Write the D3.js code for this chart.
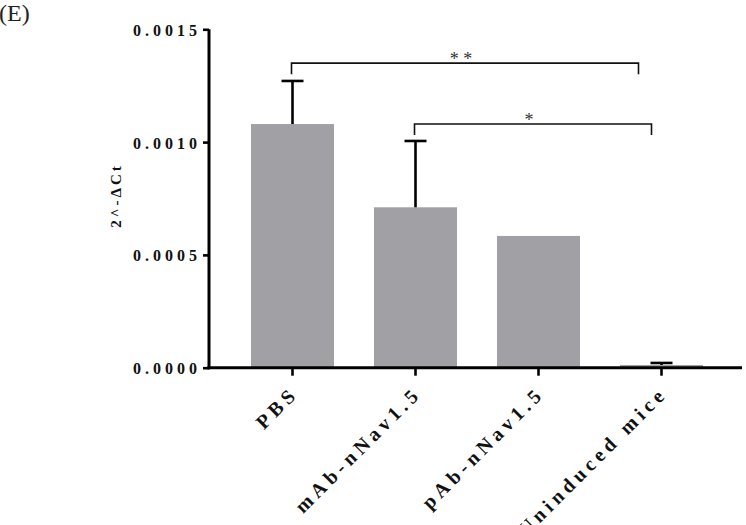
<!DOCTYPE html>
<html><head><meta charset="utf-8">
<script src="https://cdn.jsdelivr.net/npm/d3@7"></script>
<style>
body{margin:0;background:#fff;}
svg{display:block;}
</style></head>
<body><svg id="c" width="746" height="525"></svg>
<script>
const categories = ["PBS", "mAb-nNav1.5", "pAb-nNav1.5", "Uninduced mice"];
const means = [0.00108, 0.000711, 0.000584, 0.000012];
const errors = [0.000191, 0.000294, 0, 0.000009];
const yTicks = [0, 0.0005, 0.0010, 0.0015];
const yTickLabels = ["0.0000", "0.0005", "0.0010", "0.0015"];
const comparisons = [
  {from: "PBS", to: "Uninduced mice", level: 0.00135, label: "* *", endShift: -23},
  {from: "mAb-nNav1.5", to: "Uninduced mice", level: 0.00108, label: "*", endShift: -10}
];

const svg = d3.select("#c");
const serif = "'Liberation Serif','Times New Roman',serif";

const y = d3.scaleLinear().domain([0, 0.0015]).range([367.7, 29.3]);
const x = d3.scaleBand().domain(categories).range([231, 723]).paddingInner(0.325).paddingOuter(0.1625);

// panel label
svg.append("text").attr("x", -1).attr("y", 21).attr("font-family", serif)
  .attr("font-size", 24).attr("fill", "#222").text("(E)");

// bars
svg.append("g").selectAll("rect").data(categories).join("rect")
  .attr("x", d => x(d)).attr("width", x.bandwidth())
  .attr("y", (d, i) => y(means[i])).attr("height", (d, i) => y(0) - y(means[i]))
  .attr("fill", "#a1a0a5");

// error bars
const eb = svg.append("g").attr("stroke", "#000").attr("stroke-width", 2.6);
categories.forEach((c, i) => {
  if (!errors[i]) return;
  const cx = x(c) + x.bandwidth() / 2;
  eb.append("line").attr("x1", cx).attr("x2", cx).attr("y1", y(means[i])).attr("y2", y(means[i] + errors[i]));
  eb.append("line").attr("x1", cx - 11).attr("x2", cx + 11).attr("y1", y(means[i] + errors[i])).attr("y2", y(means[i] + errors[i]));
});

// y axis
const yAxis = svg.append("g").attr("transform", "translate(209,0)")
  .call(d3.axisLeft(y).tickValues(yTicks).tickFormat((d, i) => yTickLabels[i]).tickSize(6).tickPadding(2));
yAxis.select(".domain").attr("d", `M0,${y(0.0015)}V${y(0) + 1.5}`).attr("stroke-width", 3);
yAxis.selectAll(".tick line").attr("stroke-width", 2.6);
yAxis.selectAll(".tick text").attr("font-family", serif).attr("font-weight", "bold")
  .attr("font-size", 16).attr("letter-spacing", "4px").attr("fill", "#111").attr("dy", "0.38em");

// x axis
const xAxis = svg.append("g").attr("transform", `translate(0,${y(0)})`)
  .call(d3.axisBottom(x).tickSize(8).tickFormat(""));
xAxis.select(".domain").attr("d", "M207.5,0H742").attr("stroke-width", 3);
xAxis.selectAll(".tick line").attr("stroke-width", 2.6);

// x labels rotated
svg.append("g").selectAll("text").data(categories).join("text")
  .attr("transform", d => `translate(${x(d) + x.bandwidth() / 2 + 7},${y(0) + 27}) rotate(-45)`)
  .attr("text-anchor", "end").attr("font-family", serif).attr("font-weight", "bold")
  .attr("font-size", 20).attr("letter-spacing", "4.5px").attr("fill", "#111")
  .text(d => d);

// y label
svg.append("text").attr("transform", `translate(121,${(y(0.0006) + y(0.0009)) / 2 - 3}) rotate(-90)`)
  .attr("text-anchor", "middle").attr("font-family", serif).attr("font-weight", "bold")
  .attr("font-size", 15).attr("letter-spacing", "3px").attr("fill", "#111")
  .text("2^-ΔCt");

// significance brackets
const br = svg.append("g");
comparisons.forEach(c => {
  const x1 = x(c.from) + x.bandwidth() / 2 - 1;
  const x2 = x(c.to) + x.bandwidth() / 2 + c.endShift;
  const yy = y(c.level);
  br.append("path").attr("d", `M${x1},${yy + 11}V${yy}H${x2}V${yy + 11}`)
    .attr("fill", "none").attr("stroke", "#111").attr("stroke-width", 1.6);
  br.append("text").attr("x", (x1 + x2) / 2 - 4).attr("y", yy + 2).attr("text-anchor", "middle")
    .attr("font-family", serif).attr("font-size", 18).attr("fill", "#333").text(c.label);
});
</script>
</body></html>
